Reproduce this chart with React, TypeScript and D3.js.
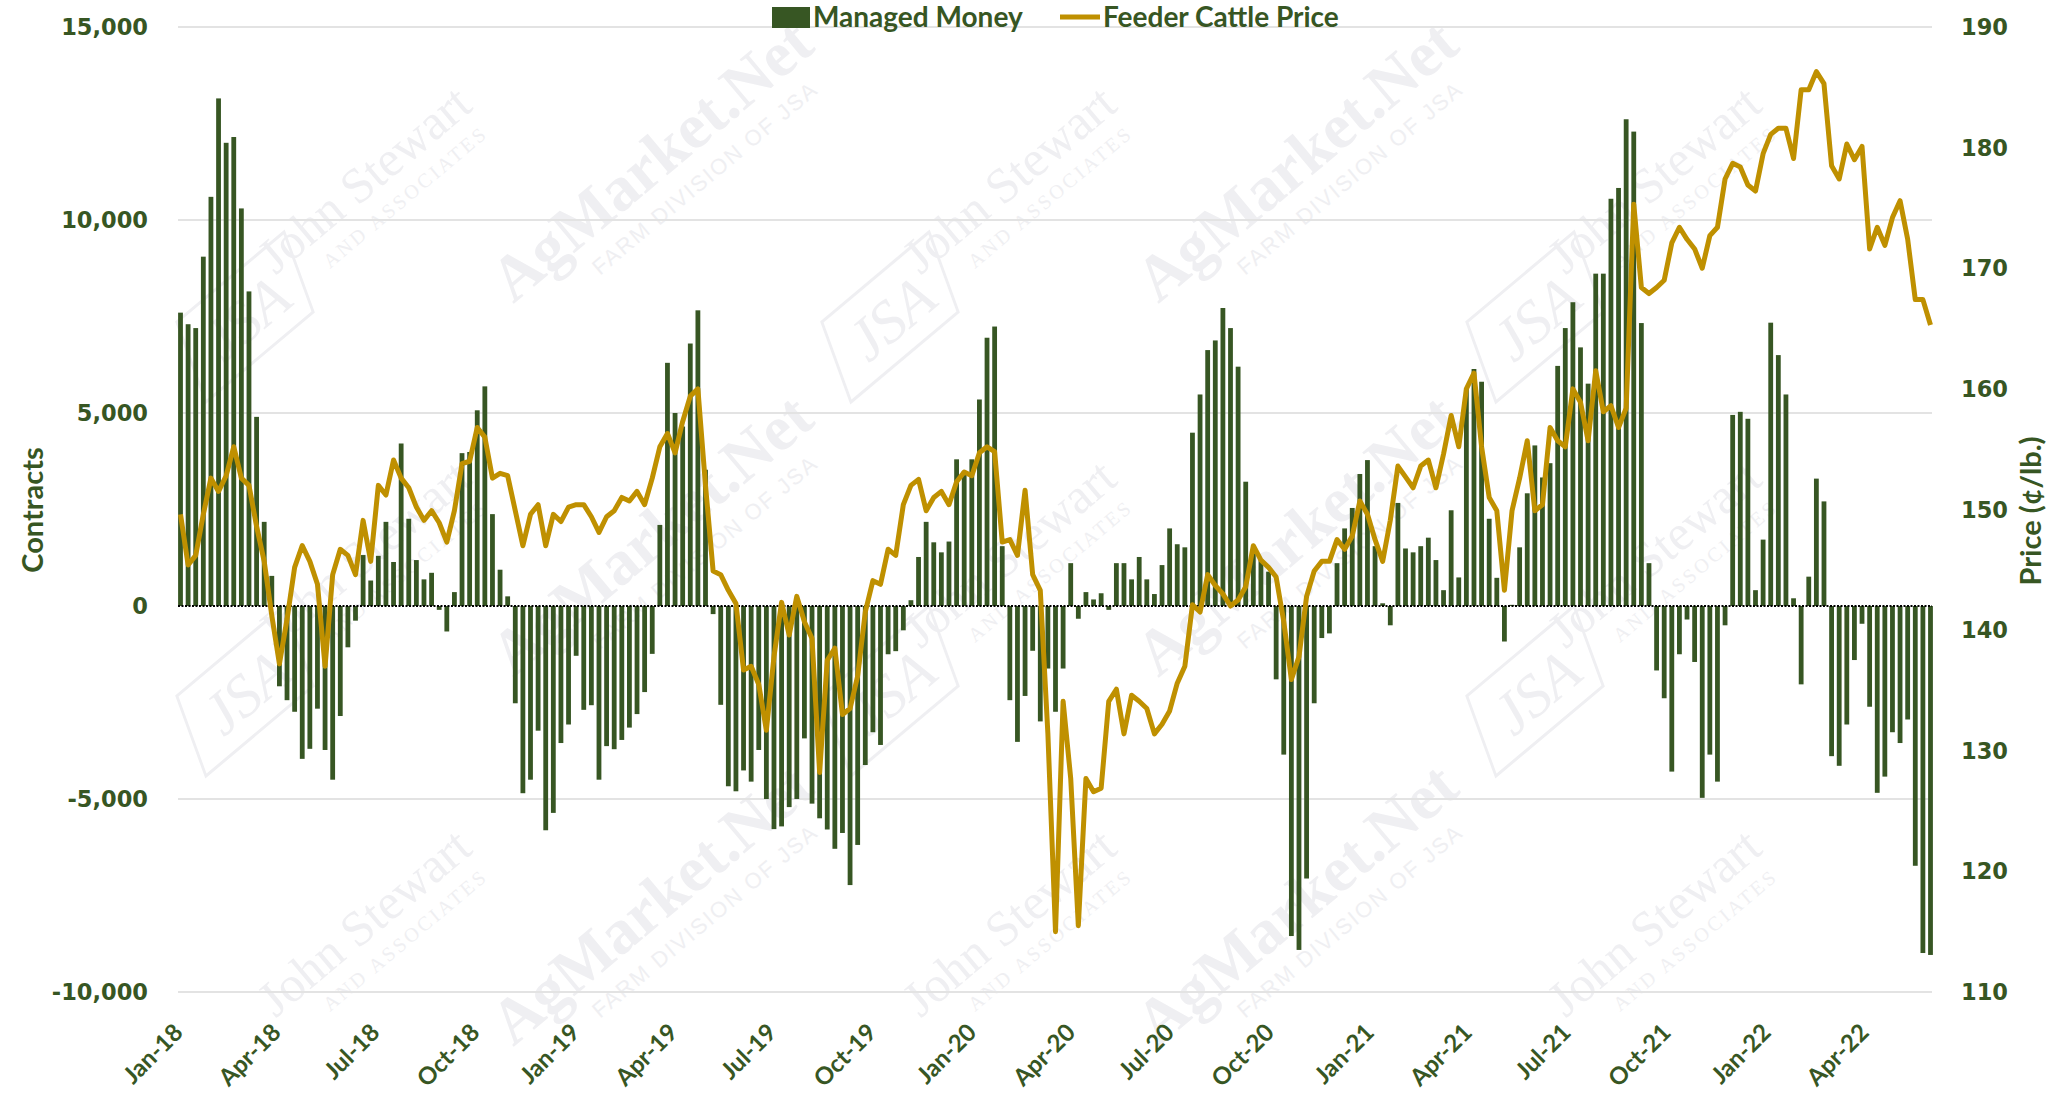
import React, { useEffect, useRef } from "react";
import * as d3 from "d3";

// weekly COT report dates start here (Tuesdays)
const firstReport = "2018-01-02";

// managed money net position, contracts (one value per week)
const managedMoney2018 = [
  7600, 7300, 7200, 9050, 10600, 13150, 12000, 12150, 10300, 8150, 4900, 2180, 780,
  -2080, -2440, -2740, -3960, -3700, -2660, -3730, -4500, -2850, -1070, -380, 1320, 660,
  1300, 2180, 1140, 4210, 2260, 1190, 690, 860, -100, -660, 360, 3960, 3990,
  5070, 5690, 2380, 940, 250, -2520, -4850, -4500, -3230, -5810, -5360, -3550, -3070,
];
const managedMoney2019 = [
  -1290, -2690, -2570, -4500, -3630, -3710, -3470, -3150, -2800, -2230, -1240, 2100, 6300,
  5000, 4650, 6800, 7660, 3530, -210, -2560, -4670, -4800, -4260, -4550, -3730, -5000,
  -5780, -5710, -5210, -5000, -3430, -5120, -5500, -5790, -6290, -5880, -7230, -6190, -4120,
  -3270, -3600, -1250, -1170, -630, 150, 1270, 2180, 1650, 1390, 1670, 3800, 3500, 3800,
];
const managedMoney2020 = [
  5350, 6950, 7240, 1550, -2440, -3520, -2330, -1160, -2990, -1620, -2740, -1620, 1110,
  -330, 360, 170, 330, -100, 1110, 1110, 690, 1270, 690, 310, 1060, 2010,
  1600, 1520, 4490, 5480, 6630, 6880, 7720, 7200, 6200, 3220, 1350, 1190, 890,
  -1900, -3850, -8550, -8910, -7060, -2520, -830, -710, 1110, 2010, 2540, 3420, 3780,
];
const managedMoney2021 = [
  1550, 70, -500, 2670, 1490, 1390, 1550, 1770, 1190, 410, 2480, 740, 5640,
  6140, 5810, 2260, 730, -920, 30, 1520, 2920, 4160, 3330, 3700, 6220, 7200,
  7870, 6700, 5760, 8610, 8610, 10550, 10830, 12610, 12290, 7330, 1110, -1670, -2390,
  -4290, -1250, -350, -1450, -4970, -3850, -4550, -500, 4950, 5030, 4850, 410, 1720,
];
const managedMoney2022 = [
  7340, 6500, 5480, 200, -2030, 760, 3300, 2710, -3890, -4140, -3070, -1400, -460,
  -2610, -4840, -4420, -3270, -3550, -2940, -6730, -8990, -9040,
];

// feeder cattle futures, cents per lb (sampled weekly)
const price2018 = [
  149.6, 145.4, 146.2, 149.6, 152.6, 151.5, 152.8, 155.2, 152.6, 152.0, 148.6, 145.7, 141.2,
  137.2, 140.9, 145.2, 147.0, 145.7, 143.8, 137.0, 144.6, 146.7, 146.2, 144.6, 149.1, 145.7,
  152.0, 151.2, 154.1, 152.6, 151.8, 150.2, 149.1, 149.9, 148.9, 147.3, 149.9, 153.8, 154.0,
  156.8, 156.0, 152.6, 153.0, 152.8, 149.9, 147.0, 149.6, 150.4, 147.0, 149.6, 149.0, 150.2,
];
const price2019 = [
  150.4, 150.4, 149.4, 148.1, 149.4, 149.9, 151.0, 150.7, 151.5, 150.4, 152.6, 155.2, 156.3,
  154.7, 157.3, 159.4, 160.0, 152.0, 144.9, 144.6, 143.3, 142.2, 136.7, 137.0, 135.5, 131.7,
  137.8, 142.3, 139.6, 142.8, 140.7, 139.3, 128.2, 137.5, 138.5, 133.0, 133.5, 136.2, 141.5,
  144.1, 143.8, 146.7, 146.2, 150.4, 152.0, 152.5, 149.9, 151.0, 151.5, 150.4, 152.3, 153.1, 152.8,
];
const price2020 = [
  154.7, 155.2, 154.8, 147.3, 147.5, 146.2, 151.6, 144.6, 143.3, 131.4, 115.0, 134.1, 127.7,
  115.5, 127.7, 126.6, 126.9, 134.1, 135.1, 131.4, 134.6, 134.1, 133.5, 131.4, 132.2, 133.3,
  135.6, 137.0, 142.1, 141.5, 144.6, 143.7, 143.0, 142.0, 142.5, 143.6, 147.0, 145.8, 145.2,
  144.4, 140.7, 135.9, 137.8, 142.8, 144.9, 145.7, 145.7, 147.5, 146.7, 147.8, 150.7, 149.6,
];
const price2021 = [
  147.5, 145.7, 149.1, 153.6, 152.7, 151.8, 153.6, 154.1, 151.8, 154.6, 157.8, 155.2, 160.0,
  161.3, 155.2, 151.0, 149.9, 143.3, 149.9, 152.6, 155.7, 149.9, 150.4, 156.8, 155.7, 155.2,
  160.0, 158.9, 155.7, 161.5, 158.1, 158.6, 156.8, 158.4, 175.3, 168.4, 167.9, 168.4, 169.0,
  172.1, 173.4, 172.4, 171.6, 170.0, 172.7, 173.4, 177.4, 178.7, 178.4, 176.9, 176.4, 179.5,
];
const price2022 = [
  181.1, 181.6, 181.6, 179.1, 184.8, 184.8, 186.3, 185.3, 178.5, 177.4, 180.3, 179.0, 180.1,
  171.6, 173.4, 171.9, 174.2, 175.6, 172.4, 167.4, 167.4, 165.3,
];

const contractTicks = [-10000, -5000, 0, 5000, 10000, 15000];
const priceTicks = [110, 120, 130, 140, 150, 160, 170, 180, 190];
const quarterTicks = [
  "2018-01-01", "2018-04-01", "2018-07-01", "2018-10-01",
  "2019-01-01", "2019-04-01", "2019-07-01", "2019-10-01",
  "2020-01-01", "2020-04-01", "2020-07-01", "2020-10-01",
  "2021-01-01", "2021-04-01", "2021-07-01", "2021-10-01",
  "2022-01-01", "2022-04-01",
];

const GREEN = "#375623";
const GOLD = "#BF9000";
const WM = "#efeff2";

const Chart = () => {
  const ref = useRef(null);

  useEffect(() => {
    const svg = d3.select(ref.current);
    svg.selectAll("*").remove();

    const width = 2065;
    const height = 1098;
    const left = 178;
    const right = 1932;
    const top = 27;
    const bottom = 992;

    svg.attr("width", width).attr("height", height);
    svg.append("rect").attr("width", width).attr("height", height).attr("fill", "#fff");

    const mm = [
      ...managedMoney2018, ...managedMoney2019, ...managedMoney2020,
      ...managedMoney2021, ...managedMoney2022,
    ];
    const px = [...price2018, ...price2019, ...price2020, ...price2021, ...price2022];
    const parse = d3.timeParse("%Y-%m-%d");
    const start = parse(firstReport);
    const weeks = mm.map((v, i) => ({
      date: d3.timeDay.offset(start, 7 * i),
      value: v,
      price: px[i],
    }));

    const x = d3
      .scaleTime()
      .domain([weeks[0].date, weeks[weeks.length - 1].date])
      .range([180.5, 1930.5]);
    const y = d3.scaleLinear().domain([-10000, 15000]).range([bottom, top]);
    const yPrice = d3.scaleLinear().domain([110, 190]).range([bottom, top]);

    // watermark tiles (kept inside the picture)
    const wm = svg.append("g").attr("pointer-events", "none");
    const tilesX = [375, 1020, 1665];
    const tilesY = [192, 566, 935];
    tilesY.forEach((ty, row) => {
      tilesX.forEach((tx, col) => {
        const g = wm.append("g").attr("transform", `translate(${tx},${ty}) rotate(-40)`);
        g.append("text")
          .attr("text-anchor", "middle")
          .attr("font-family", "Liberation Serif")
          .attr("font-size", 50)
          .attr("fill", WM)
          .text("John Stewart");
        g.append("text")
          .attr("x", 20)
          .attr("y", 30)
          .attr("text-anchor", "middle")
          .attr("font-family", "Liberation Serif")
          .attr("font-size", 20)
          .attr("letter-spacing", 3)
          .attr("fill", WM)
          .text("AND ASSOCIATES");
        if (row < 2) {
          const logo = wm
            .append("g")
            .attr("transform", `translate(${tx - 130},${ty + 125}) rotate(-40)`);
          logo.append("rect")
            .attr("x", -70).attr("y", -40).attr("width", 140).attr("height", 80)
            .attr("transform", "skewX(-20)")
            .attr("fill", "none").attr("stroke", WM).attr("stroke-width", 3);
          logo.append("text")
            .attr("text-anchor", "middle").attr("y", 22)
            .attr("font-family", "Liberation Serif").attr("font-style", "italic")
            .attr("font-size", 60).attr("fill", WM)
            .text("JSA");
        }
        if (col < 2) {
          const ag = wm
            .append("g")
            .attr("transform", `translate(${tx + 290},${ty - 15}) rotate(-40)`);
          ag.append("text")
            .attr("text-anchor", "middle")
            .attr("font-family", "Liberation Serif")
            .attr("font-weight", "bold")
            .attr("font-size", 64)
            .attr("fill", WM)
            .text("AgMarket.Net");
          ag.append("text")
            .attr("x", 30).attr("y", 34)
            .attr("text-anchor", "middle")
            .attr("font-family", "Liberation Sans")
            .attr("font-size", 22)
            .attr("letter-spacing", 2)
            .attr("fill", WM)
            .text("FARM DIVISION OF JSA");
        }
      });
    });

    // gridlines
    svg
      .append("g")
      .selectAll("line")
      .data(contractTicks.filter((t) => t !== 0))
      .enter()
      .append("line")
      .attr("x1", left)
      .attr("x2", right)
      .attr("y1", (d) => y(d))
      .attr("y2", (d) => y(d))
      .attr("stroke", "#e3e3e3")
      .attr("stroke-width", 2);

    // bars
    svg
      .append("g")
      .selectAll("rect")
      .data(weeks)
      .enter()
      .append("rect")
      .attr("x", (d) => x(d.date) - 2.4)
      .attr("width", 4.8)
      .attr("y", (d) => (d.value >= 0 ? y(d.value) : y(0)))
      .attr("height", (d) => Math.abs(y(d.value) - y(0)))
      .attr("fill", GREEN);

    // zero line
    svg
      .append("line")
      .attr("x1", left)
      .attr("x2", right)
      .attr("y1", y(0))
      .attr("y2", y(0))
      .attr("stroke", "#000")
      .attr("stroke-width", 2)
      .attr("stroke-dasharray", "2 1.5");

    // price line
    const line = d3
      .line()
      .x((d) => x(d.date))
      .y((d) => yPrice(d.price));
    svg
      .append("path")
      .datum(weeks)
      .attr("d", line)
      .attr("fill", "none")
      .attr("stroke", GOLD)
      .attr("stroke-width", 5)
      .attr("stroke-linejoin", "round");

    // left axis (plain hyphen for negatives, as in the original)
    const fmtContracts = (d) => (d < 0 ? "-" : "") + d3.format(",")(Math.abs(d));
    svg
      .append("g")
      .selectAll("text")
      .data(contractTicks)
      .enter()
      .append("text")
      .attr("x", 148)
      .attr("y", (d) => y(d))
      .attr("dy", "0.36em")
      .attr("text-anchor", "end")
      .attr("font-family", "DejaVu Sans")
      .attr("font-weight", "bold")
      .attr("font-size", 22.5)
      .attr("fill", GREEN)
      .text(fmtContracts);

    // right axis
    svg
      .append("g")
      .selectAll("text")
      .data(priceTicks)
      .enter()
      .append("text")
      .attr("x", 1961)
      .attr("y", (d) => yPrice(d))
      .attr("dy", "0.36em")
      .attr("font-family", "DejaVu Sans")
      .attr("font-weight", "bold")
      .attr("font-size", 22.5)
      .attr("fill", GREEN)
      .text((d) => d);

    // bottom axis
    const fmt = d3.timeFormat("%b-%y");
    svg
      .append("g")
      .selectAll("text")
      .data(quarterTicks.map((s) => parse(s)))
      .enter()
      .append("text")
      .attr("transform", (d) => `translate(${x(d) + 5},1034) rotate(-45)`)
      .attr("text-anchor", "end")
      .attr("font-family", "Lato")
      .attr("font-weight", "bold")
      .attr("font-size", 24)
      .attr("fill", GREEN)
      .text((d) => fmt(d));

    // axis titles
    const titleFont = "Lato";
    svg
      .append("text")
      .attr("transform", "translate(43,510) rotate(-90)")
      .attr("text-anchor", "middle")
      .attr("font-family", titleFont)
      .attr("font-weight", "bold")
      .attr("font-size", 29)
      .attr("fill", GREEN)
      .text("Contracts");
    svg
      .append("text")
      .attr("transform", "translate(2041,511) rotate(-90)")
      .attr("text-anchor", "middle")
      .attr("font-family", titleFont)
      .attr("font-weight", "bold")
      .attr("font-size", 29)
      .attr("fill", GREEN)
      .text("Price (¢/lb.)");

    // legend
    const legend = svg.append("g");
    legend.append("rect").attr("x", 772).attr("y", 7).attr("width", 38).attr("height", 21).attr("fill", GREEN);
    legend
      .append("text")
      .attr("x", 813)
      .attr("y", 27)
      .attr("font-family", titleFont)
      .attr("font-weight", "bold")
      .attr("font-size", 28)
      .attr("fill", GREEN)
      .text("Managed Money");
    legend
      .append("line")
      .attr("x1", 1060)
      .attr("x2", 1100)
      .attr("y1", 17)
      .attr("y2", 17)
      .attr("stroke", GOLD)
      .attr("stroke-width", 5);
    legend
      .append("text")
      .attr("x", 1103)
      .attr("y", 27)
      .attr("font-family", titleFont)
      .attr("font-weight", "bold")
      .attr("font-size", 28)
      .attr("fill", GREEN)
      .text("Feeder Cattle Price");
  }, []);

  return <svg ref={ref} style={{ display: "block" }}></svg>;
};

export default function App() {
  return (
    <div style={{ position: "absolute", left: 0, top: 0, width: 2065, height: 1098, overflow: "hidden" }}>
      <Chart />
    </div>
  );
}
